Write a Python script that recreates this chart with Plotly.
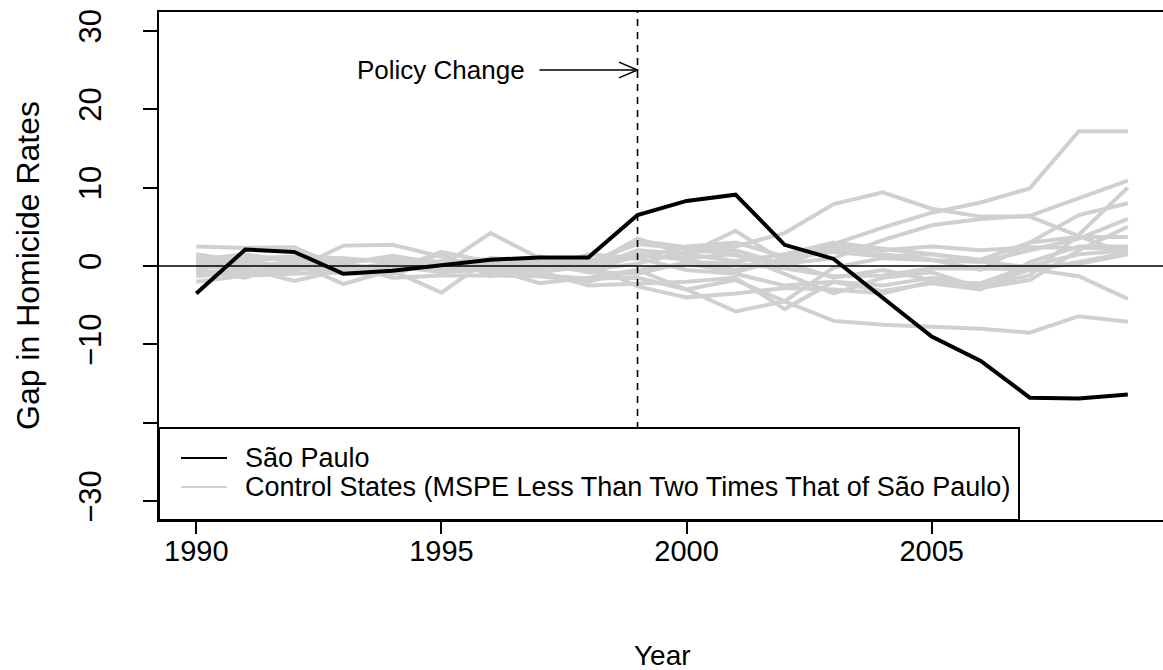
import plotly.graph_objects as go

# ---- data -------------------------------------------------------------
years = list(range(1990, 2010))

sao_paulo = [-3.5, 2.1, 1.8, -1.0, -0.6, 0.1, 0.8, 1.1, 1.1, 6.5,
             8.3, 9.1, 2.7, 0.9, -4.0, -9.0, -12.1, -16.8, -16.9, -16.4]

ctrl_01 = [0.5, 0.3, 0.2, -0.5, 0.4, 0.6, -0.2, 0.3, 0.5, 1.5, 0.8, -0.5, 0.6, 2.8, 4.9, 6.8, 8.1, 9.9, 17.2, 17.2]
ctrl_02 = [2.5, 2.3, 2.4, -0.3, -0.2, 0.5, 0.9, 0.3, 0.5, 2.8, 2.2, 2.5, 4.2, 7.9, 9.4, 7.3, 6.3, 6.3, 3.8, 1.5]
ctrl_03 = [1.2, 0.6, -0.4, 2.6, 2.7, 1.2, -0.8, 1.2, 0.2, 3.2, 2.4, 1.4, 0.3, 1.0, 3.3, 5.2, 6.0, 6.4, 8.7, 10.9]
ctrl_04 = [-0.5, -1.5, 0.8, 0.3, -0.6, -3.4, 1.0, 0.6, -0.3, 2.0, 1.5, 4.5, 0.5, -1.5, -0.5, -1.8, -2.7, -1.2, 4.0, 10.0]
ctrl_05 = [0.0, 0.8, 1.0, 0.6, 0.8, 0.0, 4.2, 1.0, 0.8, 1.0, 2.5, 3.0, 1.2, 2.0, 1.5, 0.8, -0.5, 3.0, 6.5, 8.0]
ctrl_06 = [-1.0, -0.3, -1.9, -0.5, 0.2, -0.6, -0.3, -2.2, -1.5, -0.5, -3.0, -1.8, -4.5, -0.2, 1.0, 0.8, 0.5, 2.0, 3.5, 6.0]
ctrl_07 = [0.8, 1.5, 0.5, -2.3, -0.5, 1.8, 0.5, -0.8, 0.0, 3.5, 1.5, 0.6, 1.5, 3.0, 2.2, 1.5, 0.8, 3.0, 3.7, 3.7]
ctrl_08 = [-2.0, -1.2, -1.0, -0.8, 0.0, -0.8, -0.4, 0.5, -0.5, 0.3, 1.8, 2.0, 0.2, 2.5, 2.0, 2.5, 2.0, 2.4, 2.3, 2.3]
ctrl_09 = [1.5, 0.5, 0.0, 0.3, 1.3, 0.3, 0.5, -0.4, 1.5, 1.0, -0.5, -1.0, -2.5, -2.0, -2.5, -1.5, -2.5, -0.5, 0.5, 1.7]
ctrl_10 = [-0.3, 0.0, 0.4, -0.2, -0.3, 1.5, -1.3, 0.4, -0.8, -1.0, 0.5, 0.3, -0.3, -1.3, -1.2, -0.3, -0.4, -0.4, -1.3, -4.2]
ctrl_11 = [0.2, -0.4, -0.6, 0.7, 0.8, -0.4, -0.5, -1.2, -1.6, -1.5, -3.0, -5.8, -4.5, -7.0, -7.5, -7.7, -8.0, -8.5, -6.4, -7.1]
ctrl_12 = [-1.3, -0.8, -0.2, -1.0, -1.0, 0.6, 0.0, -0.7, -2.5, -2.3, -2.0, -1.5, -5.5, -2.0, -3.2, -2.2, -3.0, 0.5, 2.5, 2.5]
ctrl_13 = [0.6, 1.0, 1.2, 1.0, 0.5, -0.3, 0.3, 0.9, 0.3, -2.6, -4.0, -3.5, -2.8, -3.0, -3.5, -2.0, -2.2, 0.0, 1.5, 2.0]
ctrl_14 = [-0.8, -0.8, -0.5, 0.2, -1.5, -1.2, -1.2, -1.3, -2.0, -0.5, 0.3, -0.8, 1.0, 1.8, 1.2, 1.5, 0.6, -0.2, 0.3, 1.5]
ctrl_15 = [0.3, 0.2, -0.3, 0.0, -0.5, 0.2, 0.8, 0.0, -0.6, 1.3, 1.0, 1.5, -1.0, -3.5, -1.5, -0.8, -2.8, -1.8, 2.0, 5.0]

control_states = [ctrl_01, ctrl_02, ctrl_03, ctrl_04, ctrl_05, ctrl_06, ctrl_07, ctrl_08,
                  ctrl_09, ctrl_10, ctrl_11, ctrl_12, ctrl_13, ctrl_14, ctrl_15]

x_ticks = [1990, 1995, 2000, 2005]
y_ticks = [-30, -20, -10, 0, 10, 20, 30]
y_tick_text = ["\u221230", "", "\u221210", "0", "10", "20", "30"]

policy_year = 1999
label_sp = "São Paulo"
label_ctrl = "Control States (MSPE Less Than Two Times That of São Paulo)"

# ---- geometry ---------------------------------------------------------
W, H = 1163, 670
L, R, T, B = 159, 1163, 12, 520
FONT = "Liberation Sans, Arial, Helvetica, sans-serif"
GREY = "#d0d0d0"


def px_x(p):
    return (p - L) / (R - L)


def px_y(p):
    return (B - p) / (B - T)


fig = go.Figure()

for series in control_states:
    fig.add_trace(go.Scatter(x=years, y=series, mode="lines",
                             line=dict(color=GREY, width=4),
                             showlegend=False, hoverinfo="skip"))

fig.add_trace(go.Scatter(x=years, y=sao_paulo, mode="lines",
                         line=dict(color="black", width=4),
                         showlegend=False))

shapes = [
    # zero reference line
    dict(type="line", xref="paper", yref="y", x0=0, x1=1, y0=0, y1=0,
         line=dict(color="black", width=1.5), layer="above"),
    # policy change marker
    dict(type="line", xref="x", yref="paper", x0=policy_year, x1=policy_year, y0=0, y1=1,
         line=dict(color="black", width=1.6, dash="7px,6px"), layer="above"),
    # arrow pointing to the policy year
    dict(type="line", xref="x", yref="y", x0=1997, x1=policy_year, y0=25, y1=25,
         line=dict(color="black", width=1.5), layer="above"),
    dict(type="path", xref="x", yref="y",
         path=f"M {policy_year - 0.38},26.0 L {policy_year},25 L {policy_year - 0.38},24.0",
         line=dict(color="black", width=1.5), layer="above"),
    # legend box
    dict(type="rect", xref="paper", yref="paper", x0=px_x(159), x1=px_x(1019),
         y0=px_y(520), y1=px_y(428), fillcolor="white",
         line=dict(color="black", width=2), layer="above"),
    dict(type="line", xref="paper", yref="paper", x0=px_x(181), x1=px_x(227),
         y0=px_y(458), y1=px_y(458), line=dict(color="black", width=2), layer="above"),
    dict(type="line", xref="paper", yref="paper", x0=px_x(181), x1=px_x(227),
         y0=px_y(487), y1=px_y(487), line=dict(color=GREY, width=2), layer="above"),
]

annotations = [
    dict(x=1995, y=25, xref="x", yref="y", text="Policy Change", showarrow=False,
         xanchor="center", yanchor="middle", font=dict(size=26, color="black", family=FONT)),
    dict(x=px_x(243), y=px_y(458), xref="paper", yref="paper", text=label_sp,
         showarrow=False, xanchor="left", yanchor="middle",
         font=dict(size=27, color="black", family=FONT)),
    dict(x=px_x(243), y=px_y(487), xref="paper", yref="paper", text=label_ctrl,
         showarrow=False, xanchor="left", yanchor="middle",
         font=dict(size=27, color="black", family=FONT)),
    dict(x=px_x(662), y=px_y(655), xref="paper", yref="paper", text="Year",
         showarrow=False, xanchor="center", yanchor="middle",
         font=dict(size=28, color="black", family=FONT)),
    dict(x=px_x(28), y=px_y(266), xref="paper", yref="paper", text="Gap in Homicide Rates",
         showarrow=False, xanchor="center", yanchor="middle", textangle=-90,
         font=dict(size=32, color="black", family=FONT)),
]

fig.update_layout(
    width=W, height=H,
    margin=dict(l=L, r=W - R, t=T, b=H - B, pad=0),
    plot_bgcolor="white", paper_bgcolor="white",
    shapes=shapes, annotations=annotations,
    font=dict(family=FONT, color="black"),
    xaxis=dict(range=[1989.24, 1989.24 + (R - L) / 49.03],
               tickmode="array", tickvals=x_ticks, ticks="outside", ticklen=12,
               tickwidth=1.5, tickcolor="black", showgrid=False, zeroline=False,
               showline=True, linecolor="black", linewidth=2, mirror=True,
               tickfont=dict(size=29, family=FONT, color="black"),
               ticklabelstandoff=-8),
    yaxis=dict(range=[-32.4, 32.4], tickmode="array", tickvals=y_ticks,
               ticktext=y_tick_text, ticks="outside", ticklen=14, tickwidth=1.5,
               tickcolor="black", tickangle=-90, showgrid=False, zeroline=False,
               showline=True, linecolor="black", linewidth=2, mirror=False,
               tickfont=dict(size=31, family=FONT, color="black"),
               ticklabelstandoff=30),
)

fig.write_html("out.html")
